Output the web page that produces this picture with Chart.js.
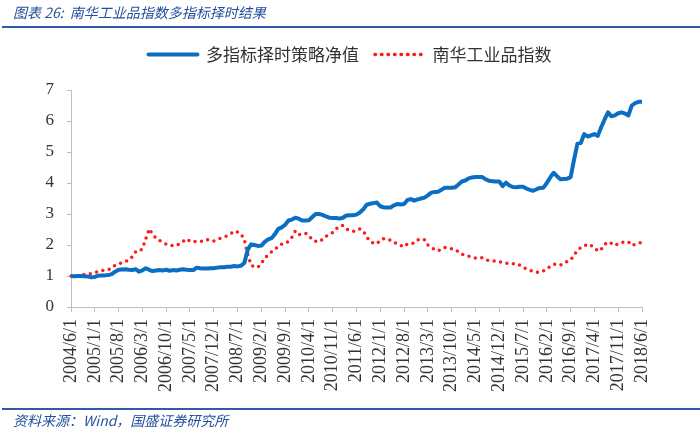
<!DOCTYPE html>
<html>
<head>
<meta charset="utf-8">
<script src="https://cdn.jsdelivr.net/npm/chart.js@4"></script>
<style>
  body { margin: 0; background: #fff; }
  #wrap { position: relative; width: 700px; height: 429px; }
  #myChart { position: absolute; left: 0; top: 0; }
  .note { position: absolute; left: 13px; font-family: "Noto Sans CJK SC", sans-serif; font-style: italic; font-size: 14px; color: #24509c; white-space: nowrap; }
  .rule { position: absolute; left: 2px; right: 0; height: 0; border-top: 2px solid #2e5aa6; }
</style>
</head>
<body>
<div id="wrap">
  <canvas id="myChart" width="700" height="429"></canvas>
  <div class="note" style="top:2px">图表 26:&nbsp; 南华工业品指数多指标择时结果</div>
  <div class="rule" style="top:26px"></div>
  <div class="rule" style="top:408px"></div>
  <div class="note" style="top:410px">资料来源：Wind，国盛证券研究所</div>
</div>
<script>
// etiquetas del eje x (una cada 7 meses)
const tickLabels = ["2004/6/1", "2005/1/1", "2005/8/1", "2006/3/1", "2006/10/1", "2007/5/1", "2007/12/1",
  "2008/7/1", "2009/2/1", "2009/9/1", "2010/4/1", "2010/11/1", "2011/6/1", "2012/1/1", "2012/8/1",
  "2013/3/1", "2013/10/1", "2014/5/1", "2014/12/1", "2015/7/1", "2016/2/1", "2016/9/1", "2017/4/1",
  "2017/11/1", "2018/6/1"];

const seriesNames = ["多指标择时策略净值", "南华工业品指数"];

// 多指标择时策略净值, mensual desde 2004/6
const stratValues = [
  1.00, 0.99, 1.00, 1.00, 0.99, 0.98, 0.96, 0.97, 1.01, 1.02,
  1.02, 1.03, 1.06, 1.14, 1.20, 1.21, 1.22, 1.20, 1.19, 1.22,
  1.14, 1.18, 1.25, 1.20, 1.16, 1.18, 1.19, 1.18, 1.20, 1.17,
  1.19, 1.18, 1.20, 1.22, 1.20, 1.19, 1.19, 1.27, 1.25, 1.24,
  1.24, 1.25, 1.25, 1.27, 1.28, 1.28, 1.30, 1.30, 1.32, 1.31,
  1.33, 1.42, 1.85, 2.02, 2.00, 1.97, 1.98, 2.10, 2.18, 2.22,
  2.35, 2.52, 2.57, 2.65, 2.79, 2.82, 2.88, 2.85, 2.79, 2.79,
  2.80, 2.90, 3.00, 3.00, 2.97, 2.92, 2.88, 2.87, 2.87, 2.85,
  2.88, 2.95, 2.96, 2.96, 2.98, 3.05, 3.15, 3.30, 3.33, 3.35,
  3.37, 3.25, 3.21, 3.21, 3.21, 3.28, 3.32, 3.31, 3.32, 3.45,
  3.48, 3.43, 3.47, 3.50, 3.53, 3.60, 3.69, 3.71, 3.72, 3.78,
  3.85, 3.85, 3.85, 3.86, 3.95, 4.05, 4.08, 4.15, 4.18, 4.19,
  4.19, 4.19, 4.12, 4.07, 4.06, 4.05, 4.05, 3.90, 4.01, 3.92,
  3.87, 3.86, 3.88, 3.88, 3.82, 3.78, 3.75, 3.80, 3.84, 3.85,
  4.00, 4.18, 4.33, 4.22, 4.12, 4.13, 4.14, 4.19, 4.75, 5.27,
  5.29, 5.58, 5.50, 5.54, 5.58, 5.52, 5.80, 6.05, 6.28, 6.15,
  6.18, 6.25, 6.28, 6.24, 6.18, 6.50, 6.58, 6.62, 6.62
];

// 南华工业品指数 (normalizado)
const nanhuaValues = [
  1.00, 1.00, 1.00, 1.03, 1.05, 1.06, 1.08, 1.11, 1.14, 1.17,
  1.19, 1.21, 1.25, 1.35, 1.39, 1.43, 1.46, 1.52, 1.62, 1.78,
  1.78, 1.88, 2.20, 2.52, 2.35, 2.22, 2.15, 2.08, 2.03, 1.99,
  1.98, 1.98, 2.05, 2.12, 2.20, 2.12, 2.10, 2.12, 2.11, 2.14,
  2.18, 2.14, 2.13, 2.18, 2.22, 2.26, 2.30, 2.36, 2.45, 2.42,
  2.36, 2.17, 1.70, 1.35, 1.29, 1.28, 1.40, 1.58, 1.68, 1.78,
  1.85, 1.97, 2.03, 2.05, 2.12, 2.25, 2.45, 2.33, 2.35, 2.38,
  2.31, 2.16, 2.12, 2.10, 2.18, 2.28, 2.34, 2.40, 2.52, 2.61,
  2.63, 2.52, 2.47, 2.44, 2.48, 2.52, 2.46, 2.26, 2.12, 2.06,
  2.04, 2.16, 2.20, 2.20, 2.15, 2.10, 2.02, 1.98, 1.94, 2.04,
  2.06, 2.06, 2.16, 2.20, 2.17, 2.00, 1.92, 1.86, 1.81, 1.86,
  1.92, 1.90, 1.88, 1.86, 1.78, 1.70, 1.67, 1.64, 1.61, 1.58,
  1.58, 1.59, 1.53, 1.50, 1.49, 1.48, 1.46, 1.44, 1.41, 1.40,
  1.39, 1.40, 1.35, 1.28, 1.23, 1.19, 1.14, 1.12, 1.13, 1.17,
  1.22, 1.32, 1.38, 1.38, 1.35, 1.42, 1.47, 1.51, 1.68, 1.82,
  1.92, 1.97, 2.03, 1.98, 1.92, 1.80, 1.86, 2.02, 2.10, 2.05,
  1.98, 2.04, 2.08, 2.10, 2.10, 1.98, 2.02, 2.05, 2.10
];

// categorias mensuales 2004/6/1 ... 2018/6/1
const categories = [];
for (let i = 0; i < stratValues.length; i++) {
  const m = 5 + i;
  categories.push((2004 + Math.floor(m / 12)) + "/" + (m % 12 + 1) + "/1");
}

const axisColor = "#bfbfbf";
const tickEvery = 7;

// espacio extra debajo de la leyenda
const legendGap = {
  id: "legendGap",
  beforeInit(chart) {
    const fit = chart.legend.fit;
    chart.legend.fit = function () {
      fit.bind(chart.legend)();
      this.height += 17;
    };
  }
};

const config = {
  type: "line",
  data: {
    labels: categories,
    datasets: [
      {
        label: seriesNames[0],
        data: stratValues,
        borderColor: "#0a6fc2",
        backgroundColor: "#0a6fc2",
        borderWidth: 4,
        borderJoinStyle: "round",
        borderCapStyle: "butt",
        pointRadius: 0,
        tension: 0
      },
      {
        label: seriesNames[1],
        data: nanhuaValues,
        borderColor: "#ff1a1a",
        backgroundColor: "transparent",
        borderWidth: 3.5,
        borderDash: [0, 6.5],
        borderCapStyle: "round",
        pointRadius: 0,
        tension: 0
      }
    ]
  },
  options: {
    responsive: false,
    animation: false,
    layout: { padding: { top: 30, right: 0, left: 0, bottom: 0 } },
    plugins: {
      legend: {
        labels: {
          boxWidth: 49,
          boxHeight: 0,
          padding: 16,
          color: "#333",
          font: { family: "'Noto Sans CJK SC', sans-serif", size: 17 }
        }
      },
      tooltip: { enabled: false }
    },
    scales: {
      x: {
        offset: false,
        border: { display: true, color: axisColor, width: 1 },
        grid: {
          drawOnChartArea: false,
          drawTicks: true,
          tickLength: 5,
          tickColor: (c) => (c.index % tickEvery === 0 ? axisColor : "transparent"),
          color: "transparent"
        },
        ticks: {
          autoSkip: false,
          maxRotation: 90,
          minRotation: 90,
          padding: 7,
          color: "#333",
          font: { family: "'Liberation Serif', serif", size: 18 },
          callback: (v, i) => (i % tickEvery === 0 ? tickLabels[i / tickEvery] : "")
        },
        afterFit: (scale) => { scale.height = 122; }
      },
      y: {
        min: 0,
        max: 7,
        border: { display: true, color: axisColor, width: 1 },
        grid: {
          drawOnChartArea: false,
          drawTicks: true,
          tickLength: 4,
          tickColor: axisColor
        },
        ticks: {
          stepSize: 1,
          padding: 13,
          color: "#333",
          font: { family: "'Liberation Serif', serif", size: 17 }
        },
        afterFit: (scale) => { scale.width = 71; }
      },
      // eje vacio a la derecha, solo deja el margen
      yRight: {
        position: "right",
        display: true,
        border: { display: false },
        grid: { display: false },
        ticks: { display: false },
        afterFit: (scale) => { scale.width = 58; }
      }
    }
  },
  plugins: [legendGap]
};

const myChart = document.getElementById("myChart");
new Chart(myChart, config);
</script>
</body>
</html>
